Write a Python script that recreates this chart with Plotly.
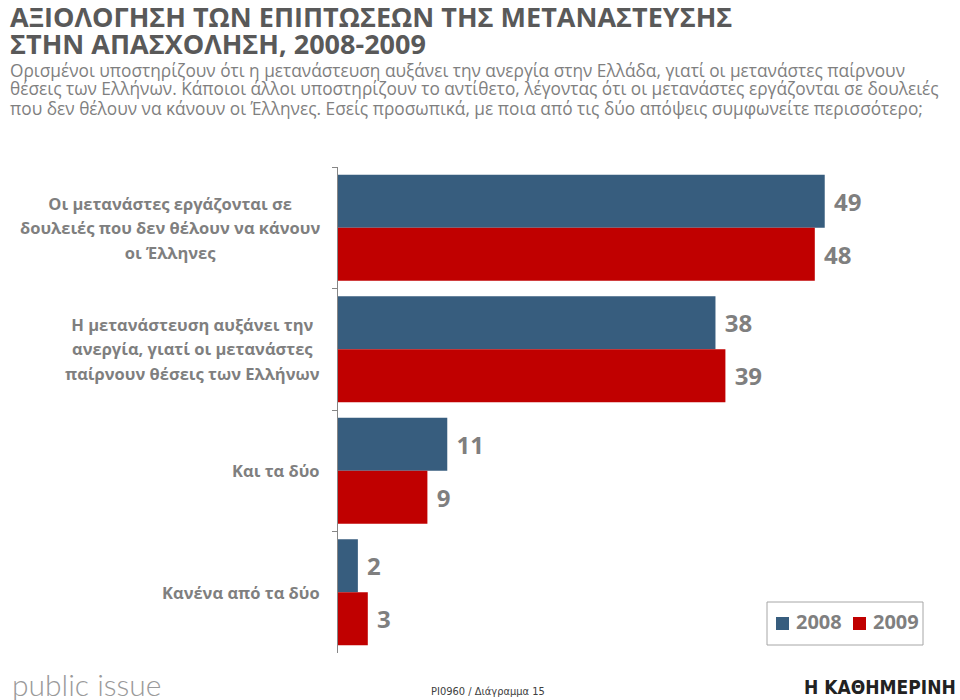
import plotly.graph_objects as go

categories = [
    "Οι μετανάστες εργάζονται σε<br>δουλειές που δεν θέλουν να κάνουν<br>οι Έλληνες",
    "Η μετανάστευση αυξάνει την<br>ανεργία, γιατί οι μετανάστες<br>παίρνουν θέσεις των Ελλήνων",
    "Και τα δύο",
    "Κανένα από τα δύο",
]
values_2008 = [49, 38, 11, 2]
values_2009 = [48, 39, 9, 3]
series_names = ["2008", "2009"]

title_lines = ["ΑΞΙΟΛΟΓΗΣΗ ΤΩΝ ΕΠΙΠΤΩΣΕΩΝ ΤΗΣ ΜΕΤΑΝΑΣΤΕΥΣΗΣ", "ΣΤΗΝ ΑΠΑΣΧΟΛΗΣΗ, 2008-2009"]
subtitle_lines = [
    "Ορισμένοι υποστηρίζουν ότι η μετανάστευση αυξάνει την ανεργία στην Ελλάδα, γιατί οι μετανάστες παίρνουν",
    "θέσεις των Ελλήνων. Κάποιοι άλλοι υποστηρίζουν το αντίθετο, λέγοντας ότι οι μετανάστες εργάζονται σε δουλειές",
    "που δεν θέλουν να κάνουν οι Έλληνες. Εσείς προσωπικά, με ποια από τις δύο απόψεις συμφωνείτε περισσότερο;",
]

BLUE = "#375d7e"
RED = "#c00000"
GREY = "#7f7f7f"
COLORS = [BLUE, RED]

L, R, T, B = 338, 26, 167, 47
PW, PH = 960 - L - R, 700 - T - B


def px(xp):
    return (xp - L) / PW


def py(yp):
    return (700 - B - yp) / PH


fig = go.Figure()
for name, vals, col in zip(series_names, [values_2008, values_2009], COLORS):
    fig.add_trace(go.Bar(
        y=categories, x=vals, name=name, orientation="h",
        marker=dict(color=col, line=dict(width=0)),
        texttemplate=" %{x}", textposition="outside",
        textfont=dict(family="Open Sans", size=24, color=GREY, weight="bold"),
        cliponaxis=False, showlegend=False,
    ))

fig.update_layout(
    width=960, height=700,
    margin=dict(l=L, r=R, t=T, b=B, autoexpand=False),
    paper_bgcolor="white", plot_bgcolor="white",
    barmode="group", bargap=0.126, bargroupgap=0,
    xaxis=dict(range=[0, 60], showgrid=False, zeroline=False, showline=False,
               showticklabels=False, ticks="", automargin=False),
    yaxis=dict(autorange="reversed", showline=True, linecolor="#868686", linewidth=1,
               ticks="outside", ticklen=5, tickcolor="#868686", tickson="boundaries",
               showticklabels=False, showgrid=False, type="category", automargin=False),
)

# category labels: lines centred within the block, block right-aligned; taller line spacing
for c in categories:
    spaced = "<br>".join('<span style="font-size:16.5px">%s</span>' % ln for ln in c.split("<br>"))
    fig.add_annotation(
        text=spaced, xref="paper", yref="y", x=px(322), y=c,
        xanchor="right", yanchor="middle", align="center", showarrow=False,
        font=dict(family="Open Sans", size=18.8, color=GREY, weight="bold"),
    )

# legend box
fig.add_shape(type="rect", xref="paper", yref="paper", x0=px(767), x1=px(923), y0=py(645), y1=py(602),
              line=dict(color="#a6a6a6", width=1), fillcolor="white")
for name, col, sx in zip(series_names, COLORS, [776, 853]):
    fig.add_shape(type="rect", xref="paper", yref="paper", x0=px(sx), x1=px(sx + 13), y0=py(630), y1=py(617),
                  line=dict(width=0), fillcolor=col)
    fig.add_annotation(
        text=name, xref="paper", yref="paper", x=px(sx + 18), y=py(621), xanchor="left", yanchor="middle",
        showarrow=False, font=dict(family="Open Sans", size=20, color=GREY, weight="bold"),
    )

# titles
for i, line in enumerate(title_lines):
    fig.add_annotation(
        text=line, xref="paper", yref="paper",
        x=px(8), y=py(16 + 27 * i), xanchor="left", yanchor="middle",
        align="left", showarrow=False,
        font=dict(family="Open Sans", size=27, color="#595959", weight="bold"),
    )
for i, line in enumerate(subtitle_lines):
    fig.add_annotation(
        text=line, xref="paper", yref="paper",
        x=px(8), y=py(70 + 19 * i), xanchor="left", yanchor="middle",
        align="left", showarrow=False,
        font=dict(family="Open Sans", size=17.3, color=GREY),
    )

# footer
fig.add_annotation(
    text="public issue", xref="paper", yref="paper",
    x=px(10), y=py(684), xanchor="left", yanchor="middle",
    showarrow=False, font=dict(family="Lato", size=30, color="#9a9a9a", weight=300),
)
fig.add_annotation(
    text="PI0960 / Διάγραμμα 15", xref="paper", yref="paper",
    x=px(488), y=py(691), xanchor="center", yanchor="middle",
    showarrow=False, font=dict(family="DejaVu Sans Condensed", size=11, color="#404040"),
)
fig.add_annotation(
    text="<b>Η ΚΑΘΗΜΕΡΙΝΗ</b>", xref="paper", yref="paper",
    x=px(958), y=py(687), xanchor="right", yanchor="middle",
    showarrow=False, font=dict(family="Liberation Sans Narrow, DejaVu Sans Condensed", size=19, color="#222222"),
)

fig.write_html(
    "out.html",
    config={"displayModeBar": False},
    post_script="document.body.style.margin='0';document.body.style.overflow='hidden';",
)
